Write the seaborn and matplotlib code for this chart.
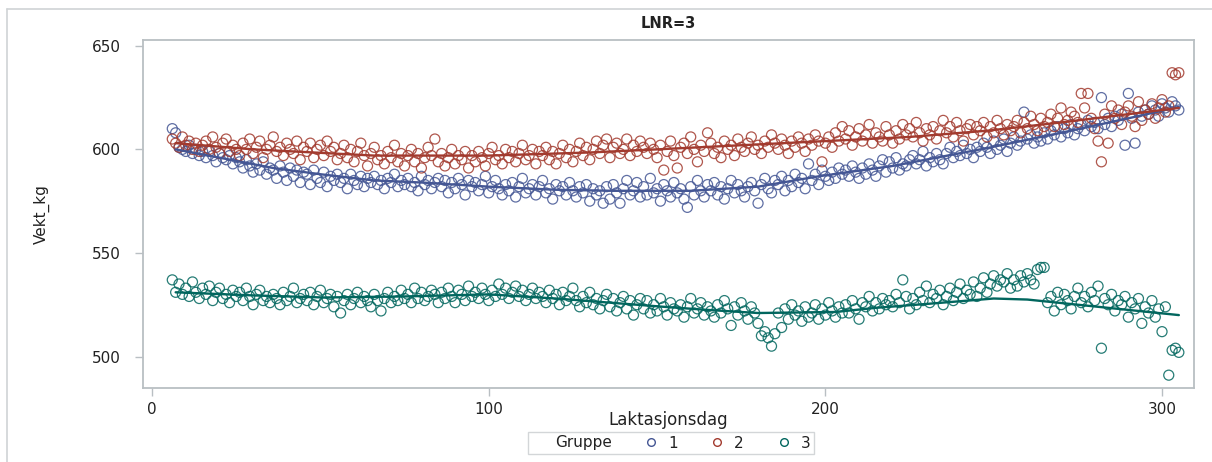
import numpy as np
import pandas as pd
import matplotlib
matplotlib.use("Agg")
import matplotlib.pyplot as plt
import seaborn as sns
from matplotlib.lines import Line2D

# ---- data -------------------------------------------------------------
days = list(range(6, 306))

gruppe1 = [
    610, 608, 601, 600, 599, 602, 598, 600, 597, 599,
    596, 599, 597, 594, 598, 596, 595, 597, 593, 596,
    594, 591, 595, 592, 589, 593, 590, 594, 588, 591,
    590, 586, 592, 589, 585, 591, 587, 590, 584, 589,
    588, 583, 590, 586, 584, 589, 582, 587, 585, 588,
    584, 586, 581, 588, 585, 583, 587, 582, 586, 584,
    587, 583, 585, 581, 586, 584, 588, 582, 585, 583,
    586, 582, 584, 580, 587, 583, 585, 581, 584, 586,
    582, 585, 579, 584, 581, 586, 583, 578, 585, 582,
    584, 580, 583, 587, 579, 582, 585, 581, 578, 583,
    580, 584, 577, 582, 586, 579, 581, 583, 578, 582,
    585, 579, 581, 576, 583, 580, 582, 578, 584, 580,
    577, 582, 579, 583, 575, 581, 578, 580, 574, 582,
    576, 583, 579, 574, 581, 585, 578, 580, 584, 577,
    582, 578, 586, 579, 581, 575, 583, 580, 577, 584,
    579, 581, 576, 572, 582, 578, 585, 580, 577, 583,
    580, 584, 578, 582, 576, 581, 585, 579, 583, 580,
    577, 582, 584, 580, 574, 583, 586, 581, 579, 585,
    583, 587, 580, 585, 582, 588, 584, 586, 581, 593,
    585, 588, 583, 590, 587, 585, 589, 586, 591, 588,
    590, 587, 592, 589, 586, 591, 588, 593, 590, 587,
    592, 595, 589, 594, 591, 596, 590, 593, 592, 595,
    597, 593, 595, 599, 592, 596, 594, 598, 595, 593,
    598, 601, 596, 599, 597, 602, 598, 600, 596, 601,
    599, 603, 601, 598, 604, 600, 602, 605, 599, 603,
    606, 602, 604, 618, 605, 607, 603, 606, 604, 608,
    605, 609, 607, 611, 606, 610, 608, 612, 607, 610,
    612, 609, 614, 611, 613, 610, 625, 612, 615, 611,
    616, 614, 617, 602, 627, 615, 603, 618, 616, 619,
    617, 621, 619, 616, 622, 620, 618, 623, 621, 619,
]

gruppe2 = [
    605, 603, 601, 606, 602, 604, 600, 603, 599, 602,
    604, 600, 606, 601, 598, 603, 605, 599, 602, 600,
    597, 603, 600, 605, 598, 601, 604, 596, 600, 602,
    606, 599, 601, 597, 603, 600, 598, 604, 595, 601,
    599, 603, 596, 600, 602, 597, 604, 599, 601, 595,
    598, 602, 596, 600, 594, 599, 603, 597, 592, 598,
    601, 595, 597, 593, 599, 596, 602, 594, 598, 592,
    597, 600, 594, 598, 591, 596, 601, 597, 605, 594,
    598, 592, 596, 600, 593, 597, 595, 599, 591, 597,
    594, 599, 596, 592, 598, 601, 595, 597, 593, 600,
    596, 599, 594, 598, 602, 595, 597, 600, 593, 599,
    597, 601, 595, 599, 593, 598, 602, 596, 600, 594,
    599, 603, 597, 601, 595, 600, 604, 598, 602, 605,
    596, 601, 603, 598, 600, 605, 597, 602, 599, 604,
    601, 598, 603, 600, 596, 602, 590, 599, 604, 597,
    591, 601, 603, 598, 606, 600, 594, 602, 599, 608,
    603, 598, 601, 596, 604, 600, 602, 597, 605, 601,
    599, 603, 606, 600, 602, 598, 604, 601, 607, 603,
    600, 605, 602, 598, 604, 601, 606, 603, 599, 605,
    602, 607, 604, 594, 603, 606, 601, 608, 604, 611,
    605, 609, 602, 606, 610, 604, 607, 612, 603, 608,
    606, 604, 611, 607, 603, 609, 605, 612, 607, 610,
    606, 613, 608, 604, 610, 607, 611, 605, 609, 614,
    608, 611, 606, 613, 609, 604, 610, 612, 607, 611,
    609, 613, 606, 611, 608, 614, 610, 607, 612, 609,
    611, 614, 608, 613, 610, 616, 612, 609, 615, 611,
    613, 617, 611, 615, 620, 612, 614, 618, 616, 613,
    627, 620, 627, 615, 610, 604, 594, 617, 603, 621,
    615, 619, 612, 618, 621, 616, 611, 623, 614, 619,
    617, 622, 615, 620, 624, 618, 621, 637, 636, 637,
]

gruppe3 = [
    537, 531, 535, 530, 533, 529, 536, 531, 528, 533,
    530, 534, 527, 531, 533, 528, 530, 526, 532, 529,
    531, 527, 533, 529, 525, 530, 532, 527, 529, 526,
    530, 528, 525, 531, 527, 529, 533, 526, 528, 530,
    527, 531, 525, 529, 532, 526, 528, 530, 524, 529,
    521, 527, 530, 525, 528, 531, 526, 529, 527, 524,
    530, 527, 522, 528, 531, 526, 529, 527, 532, 528,
    530, 526, 533, 528, 531, 527, 529, 532, 530, 526,
    531, 528, 533, 529, 526, 532, 530, 527, 534, 529,
    531, 528, 533, 530, 527, 532, 529, 535, 530, 533,
    528, 531, 534, 529, 532, 527, 530, 533, 528, 531,
    529, 526, 532, 528, 530, 525, 531, 527, 529, 533,
    527, 524, 529, 526, 531, 525, 528, 523, 527, 530,
    524, 528, 522, 526, 529, 523, 527, 520, 525, 528,
    523, 527, 521, 525, 522, 528, 524, 520, 526, 523,
    522, 525, 519, 524, 528, 521, 523, 526, 520, 524,
    522, 519, 525, 521, 527, 523, 515, 524, 520, 526,
    522, 518, 524, 521, 516, 510, 512, 509, 505, 511,
    521, 514, 523, 518, 525, 520, 522, 517, 524, 519,
    521, 525, 518, 523, 520, 526, 522, 519, 524, 521,
    525, 521, 527, 523, 518, 526, 524, 529, 522, 526,
    523, 528, 525, 527, 524, 530, 526, 537, 529, 523,
    528, 525, 531, 527, 534, 526, 530, 528, 532, 525,
    529, 533, 527, 531, 535, 528, 532, 530, 536, 529,
    533, 538, 531, 535, 539, 534, 537, 536, 540, 533,
    537, 534, 539, 536, 540, 537, 535, 542, 543, 543,
    526, 529, 522, 531, 525, 530, 527, 523, 529, 533,
    526, 529, 524, 531, 527, 534, 504, 528, 525, 530,
    522, 527, 525, 529, 519, 526, 523, 528, 516, 524,
    521, 527, 519, 523, 512, 524, 491, 503, 504, 502,
]

# loess trend per group, sampled at a few days
trend1_days = [7, 20, 36, 50, 66, 80, 100, 120, 137, 160, 180, 198, 220, 248, 270, 290, 305]
trend1_vals = [600, 596, 591, 588, 585, 584, 582, 580.5, 580, 580, 582, 587, 592, 600.6, 608, 615, 620.5]
trend2_days = [7, 30, 66, 100, 130, 150, 175, 200, 225, 248, 270, 290, 305]
trend2_vals = [603, 600, 597, 597, 598.5, 600, 602, 604, 606, 609, 613, 617, 620]
trend3_days = [7, 30, 51, 75, 100, 120, 140, 152, 165, 180, 203, 215, 231, 250, 260, 275, 290, 305]
trend3_vals = [531, 529.5, 528.5, 529, 530, 528, 525.5, 524, 522.5, 521, 521.5, 523.5, 525.5, 528, 527.5, 525, 522.5, 520]

groups = ["1", "2", "3"]
colors = ["#445694", "#A23A2E", "#01665E"]

# ---- figure -------------------------------------------------------------
sns.set_theme(style="white")
plt.rcParams["font.family"] = ["DejaVu Sans"]

W, H = 1212, 462
fig = plt.figure(figsize=(W / 100, H / 100), dpi=100)
ax = fig.add_axes([143 / W, 1 - 388 / H, (1194 - 143) / W, (388 - 40) / H])

points = pd.DataFrame({
    "Laktasjonsdag": days * 3,
    "Vekt_kg": gruppe1 + gruppe2 + gruppe3,
    "Gruppe": ["1"] * len(gruppe1) + ["2"] * len(gruppe2) + ["3"] * len(gruppe3),
})
trend = pd.DataFrame({
    "Laktasjonsdag": trend1_days + trend2_days + trend3_days,
    "Vekt_kg": trend1_vals + trend2_vals + trend3_vals,
    "Gruppe": ["1"] * len(trend1_days) + ["2"] * len(trend2_days) + ["3"] * len(trend3_days),
})
palette = dict(zip(groups, colors))

for g in groups:
    sub = points[points["Gruppe"] == g]
    sns.scatterplot(data=sub, x="Laktasjonsdag", y="Vekt_kg", ax=ax,
                    marker="o", s=52, facecolors="none",
                    edgecolor=palette[g], linewidth=0.9, alpha=0.85,
                    legend=False)
for g in groups:
    sub = trend[trend["Gruppe"] == g]
    sns.lineplot(data=sub, x="Laktasjonsdag", y="Vekt_kg", ax=ax,
                 color=palette[g], linewidth=1.7, legend=False, sort=True)

ax.set_xlim(-2.7, 309.5)
ax.set_ylim(484.8, 652.8)
ax.set_xticks([0, 100, 200, 300])
ax.set_yticks([500, 550, 600, 650])

frame_col = "#B9BFC3"
for sp in ax.spines.values():
    sp.set_visible(True)
    sp.set_color(frame_col)
    sp.set_linewidth(1.3)
ax.tick_params(axis="both", direction="out", length=6, width=1, color=frame_col,
               labelsize=11, labelcolor="#222222", bottom=True, left=True)
ax.tick_params(axis="x", pad=4)
ax.tick_params(axis="y", pad=10)

ax.set_xlabel("Laktasjonsdag", fontsize=12, color="#222222")
ax.xaxis.set_label_coords(0.5, -0.066)
ax.set_ylabel("Vekt_kg", fontsize=11, color="#222222", labelpad=30)
ax.set_title("LNR=3", fontsize=10.5, fontweight="bold", color="#222222", pad=9)

# outer border lines (top and left)
fig.add_artist(Line2D([7 / W, 7 / W], [0, 1 - 9 / H], transform=fig.transFigure,
                      color="#D0D3D5", lw=1.2))
fig.add_artist(Line2D([7 / W, 1], [1 - 9 / H, 1 - 9 / H], transform=fig.transFigure,
                      color="#D0D3D5", lw=1.2))

# legend: "Gruppe" followed by the three group markers
handles = [Line2D([], [], linestyle="none")]
labels = ["Gruppe"]
for g in groups:
    handles.append(Line2D([], [], linestyle="none", marker="o", markersize=5.5,
                          markerfacecolor="none", markeredgecolor=palette[g],
                          markeredgewidth=1.0))
    labels.append(g)
leg = fig.legend(handles, labels, loc="center", bbox_to_anchor=(671 / W, 1 - 443 / H),
                 ncol=4, frameon=True, fancybox=False, fontsize=11,
                 handlelength=0.8, handletextpad=0.7, columnspacing=2.2,
                 borderpad=0.25, borderaxespad=0)
leg.get_frame().set_edgecolor("#C8CCCF")
leg.get_frame().set_linewidth(1.0)
for t in leg.get_texts():
    t.set_color("#222222")

fig.savefig("out.png", dpi=100, facecolor="white")
